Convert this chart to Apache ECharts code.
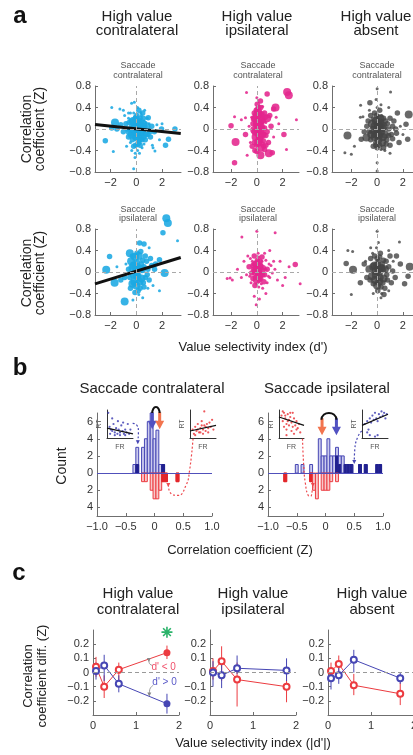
<!DOCTYPE html>
<html>
<head>
<meta charset="utf-8">
<script src="https://cdn.jsdelivr.net/npm/echarts@6/dist/echarts.min.js"></script>
<style>
  html, body { margin: 0; padding: 0; background: #fff; }
  #main { width: 413px; height: 755px; }
</style>
</head>
<body>
<div id="main"></div>
<script>
// ---- panel a : correlation coefficient vs value selectivity, [d', Z, size class]
const contraSacContra = [
  [-1.9,0.4,1],[-1.78,-0.42,1],[-2.4,-0.22,2],[-0.1,-0.53,1],[-0.2,-0.74,1],[-1.27,0.37,1],[-1.0,0.35,1],[-0.36,0.48,1],
  [-0.15,0.5,1],[0.93,0.21,2],[2.27,-0.3,2],[2.5,-0.19,2],[3.0,0.0,2],[1.96,0.0,2],[-1.65,0.12,3],[-1.9,0.02,2],
  [-1.5,0.0,2],[1.3,-0.35,1],[1.45,-0.41,1],[-0.75,-0.32,1],[-0.8,0.1,2],[-0.6,0.2,1],[-0.5,-0.05,3],[-0.4,0.15,2],
  [-0.3,-0.2,2],[-0.25,0.05,3],[-0.2,0.3,1],[-0.15,-0.1,3],[-0.1,0.18,2],[-0.05,-0.3,2],[0,0.05,3],[0,-0.15,3],
  [0.05,0.25,2],[0.1,-0.05,3],[0.15,0.12,3],[0.2,-0.25,2],[0.25,0.02,3],[0.3,0.2,2],[0.35,-0.12,3],[0.4,0.08,2],
  [0.45,-0.35,1],[0.5,0.3,2],[0.55,-0.05,2],[0.6,0.15,1],[0.7,-0.2,2],[0.8,0.05,3],[0.9,-0.1,2],[1.0,0.1,1],
  [1.1,-0.15,2],[1.2,0.05,2],[1.4,-0.05,2],[1.6,0.08,1],[-0.35,-0.4,1],[0.1,0.4,1],[0.2,0.35,2],[-0.6,-0.15,2],
  [-1.0,-0.05,2],[-1.2,0.08,2],[0.65,0.35,1],[-0.05,0.1,3],[0.3,-0.3,2],[0.1,-0.4,1],[1.8,-0.2,1],[2.0,0.1,1],
  [-0.9,0.25,1],[-0.3,0.0,1],[0.05,-0.22,1],[0.4,0.25,1],[-0.15,0.22,1],[0.6,-0.28,1],[0.75,0.12,1],[-0.45,-0.25,1],
  [0.25,-0.45,1],[-0.08,-0.45,1],[0.5,-0.18,1],[-0.7,0.0,2],[-0.55,0.12,2],[-0.45,0.3,1],[-0.35,-0.1,3],[-0.2,-0.32,2],
  [-0.1,0.05,3],[0.05,-0.05,3],[0.15,-0.15,3],[0.2,0.05,3],[0.3,0.1,3],[0.4,-0.05,3],[0.45,-0.2,2],[0.55,0.2,2],
  [0.65,0.05,2],[0.75,-0.1,2],[0.85,0.2,1],[1.05,-0.05,2],[-0.25,0.15,3],[-0.05,0.22,2],[0.1,0.15,3],[0.0,-0.05,3],
  [-0.4,-0.02,2],[0.3,-0.2,2],[0.6,-0.15,2],[-0.15,0.0,3],[0.12,-0.28,2],[0.5,0.1,3],[-0.6,0.3,1],[0.35,0.3,1],
  [1.25,-0.3,1]
]
const ipsiSacContra = [
  [2.35,0.69,3],[2.48,0.63,3],[-0.8,0.68,1],[0,0.58,1],[0.28,0.52,2],[0.03,0.46,2],[0.8,0.65,2],[1.45,0.4,3],
  [1.3,0.37,2],[-1.73,0.23,1],[-0.88,0.21,1],[-1.2,0.17,1],[-2.0,0.06,2],[3.07,0.17,1],[-1.65,-0.24,3],[-0.88,-0.1,2],
  [-0.75,-0.49,1],[-1.73,-0.63,2],[0.28,-0.49,3],[0.93,-0.45,3],[1.2,-0.44,2],[2.3,-0.38,1],[2.1,-0.1,2],[-0.36,-0.32,2],
  [0.54,-0.32,2],[-0.2,0.3,2],[0.1,0.32,3],[0.4,0.28,2],[0.6,0.3,2],[-0.1,0.2,3],[0.2,0.18,3],[0.5,0.15,2],
  [0.8,0.2,3],[1.0,0.25,2],[-0.3,0.1,2],[0,0.08,3],[0.3,0.05,3],[0.6,0.02,2],[1.1,0.05,2],[-0.2,-0.02,3],
  [0.1,-0.05,3],[0.4,-0.1,3],[0.7,-0.12,2],[-0.1,-0.15,3],[0.2,-0.2,3],[0.5,-0.22,2],[0.9,-0.25,2],[0,-0.3,2],
  [0.3,-0.35,3],[-0.15,-0.4,2],[0.6,-0.38,2],[0.15,0.4,2],[0.45,0.42,1],[-0.05,0.35,2],[1.3,-0.15,1],[1.7,0.1,1],
  [-0.6,0.05,1],[-0.5,-0.25,1],[0.35,0.12,2],[0.05,-0.1,2],[0.25,0.25,2],[0.7,0.12,1],[-0.4,0.22,1],[1.5,0.22,1],
  [0.0,0.25,3],[0.2,0.3,2],[0.35,0.18,3],[0.15,0.05,3],[0.45,0.02,2],[-0.1,-0.05,3],[0.25,-0.12,3],[0.55,-0.1,2],
  [0.1,-0.25,3],[0.4,-0.28,2],[0.0,-0.42,2],[0.7,-0.3,2],[-0.25,0.18,2],[0.65,0.22,2],[0.3,0.4,2],[-0.2,-0.25,2],
  [0.8,-0.05,2],[0.05,0.12,3],[0.3,-0.02,3],[-0.05,0.38,1]
]
const absentSacContra = [
  [0,0.75,1],[1.04,0.69,1],[-0.08,0.55,1],[-0.56,0.49,2],[-1.28,0.44,1],[0.9,0.4,1],[2.45,0.27,3],[1.57,0.3,2],
  [-1.3,0.22,1],[-1.1,0.23,1],[-2.3,-0.12,3],[-2.5,-0.44,1],[-2.0,-0.47,1],[-1.76,-0.32,1],[-1.23,-0.19,2],[-0.83,-0.16,3],
  [2.37,-0.19,2],[2.24,0.09,2],[0,-0.63,1],[0,-0.78,1],[1.44,0,2],[-0.5,0.25,2],[-0.2,0.3,2],[0.2,0.35,2],
  [0.5,0.2,2],[-0.4,0.1,3],[-0.1,0.15,3],[0.2,0.12,3],[0.5,0.05,3],[0.8,0.1,2],[1.0,0.2,2],[1.2,0.05,2],
  [-0.6,-0.05,2],[-0.3,-0.02,3],[0,0,3],[0.3,-0.05,3],[0.6,-0.1,3],[0.9,-0.12,2],[1.2,-0.18,2],[-0.5,-0.2,2],
  [-0.2,-0.15,3],[0.1,-0.2,3],[0.4,-0.25,3],[0.7,-0.28,2],[1.0,-0.3,2],[-0.3,-0.32,2],[0,-0.35,2],[0.3,-0.38,1],
  [-0.8,0.05,2],[-1.0,-0.05,2],[1.5,-0.08,2],[1.8,0.05,1],[1.7,-0.25,2],[0.1,0.22,2],[-0.1,-0.25,2],[0.2,0.02,3],
  [0.05,0.08,3],[0.35,0.25,1],[-0.6,0.35,1],[0.6,-0.4,1],[2.0,-0.1,1],[-0.2,0.05,3],[0.1,0.08,3],[0.4,0.02,3],
  [0.25,0.2,3],[-0.05,0.25,2],[0.65,0.15,2],[-0.45,-0.1,3],[-0.15,-0.1,3],[0.15,-0.12,3],[0.45,-0.15,3],[0.75,-0.2,2],
  [-0.1,-0.3,2],[0.2,-0.3,2],[0.5,-0.35,2],[0.9,0.0,2],[1.1,-0.1,2],[-0.7,0.15,2],[0.0,0.4,1],[0.3,0.45,1],
  [1.3,0.15,2],[1.0,-0.45,1],[0.05,-0.1,3],[0.3,0.1,3],[-0.3,0.18,2]
]
const contraSacIpsi = [
  [2.33,1.0,3],[2.45,0.91,3],[2.07,0.73,2],[0.26,0.54,2],[0.6,0.52,2],[3.2,0.58,1],[-2.07,0.29,2],[-2.33,0.04,3],
  [-1.68,-0.2,3],[-0.9,-0.55,3],[-0.26,-0.52,1],[0.5,-0.48,1],[1.8,-0.35,1],[2.2,-0.02,3],[1.8,0.23,2],[1.42,0.05,2],
  [-0.5,0.35,3],[1.0,0.45,1],[-1.2,-0.15,2],[-1.5,0.1,1],[-0.4,0.2,3],[-0.1,0.28,3],[0.2,0.3,3],[0.5,0.22,2],
  [0.8,0.2,2],[-0.6,0.05,2],[-0.3,0.08,3],[0,0.1,3],[0.3,0.05,3],[0.6,0.1,2],[0.9,0.05,2],[1.2,0.12,2],
  [-0.5,-0.1,2],[-0.2,-0.05,3],[0.1,-0.08,3],[0.4,-0.12,3],[0.7,-0.1,2],[1.0,-0.15,2],[-0.3,-0.22,3],[0,-0.25,3],
  [0.3,-0.3,2],[0.6,-0.28,2],[-0.1,-0.38,2],[0.2,-0.42,1],[0.9,-0.3,1],[1.3,-0.25,1],[-0.8,0.15,1],[-0.9,-0.1,2],
  [0.1,0.18,2],[0.35,0.38,2],[1.5,0.15,2],[-0.15,0.15,2],[-0.2,0.12,3],[0.15,0.08,3],[0.45,0.05,3],[0.0,-0.05,3],
  [0.25,-0.18,3],[-0.15,-0.18,3],[0.55,-0.2,2],[0.05,0.35,2],[-0.3,0.3,2],[0.7,0.3,2],[0.4,0.15,2],[-0.45,-0.3,2],
  [0.15,-0.35,2],[1.1,0.25,2],[0.85,-0.05,2],[-0.05,0.0,3]
]
const ipsiSacIpsi = [
  [-1.16,0.65,1],[1.42,0.73,1],[0,0.76,1],[-0.05,-0.61,1],[2.98,0.14,2],[3.36,-0.22,1],[-2.07,-0.11,1],[-2.3,-0.12,1],
  [-1.9,-0.15,1],[-1.5,0.05,1],[2.5,0.1,1],[2.2,-0.1,1],[1.8,0.2,1],[2.0,-0.25,1],[-1.0,0.2,1],[-1.2,-0.1,1],
  [0.2,-0.5,1],[-0.2,-0.45,1],[0.7,-0.4,1],[1.0,0.4,1],[-0.5,0.25,1],[-0.2,0.3,2],[0.1,0.35,1],[0.4,0.28,2],
  [0.7,0.22,1],[-0.6,0.1,2],[-0.3,0.12,2],[0,0.15,3],[0.2,0.1,3],[0.5,0.08,2],[0.8,0.05,2],[1.1,0.12,1],
  [-0.4,-0.02,2],[-0.1,0,3],[0.15,-0.03,3],[0.35,0.02,3],[0.6,-0.05,2],[0.9,-0.08,1],[1.2,-0.02,1],[-0.3,-0.12,2],
  [0,-0.15,3],[0.3,-0.12,2],[0.55,-0.18,2],[-0.15,-0.25,2],[0.15,-0.28,1],[0.45,-0.3,1],[-0.45,-0.2,1],[1.4,0.05,1],
  [1.6,-0.15,1],[-0.8,-0.05,1],[0.05,0.22,2],[0.25,0.2,2],[-0.05,0.05,3],[0.1,0.02,3],[0.25,-0.08,2],[0.8,-0.2,1],
  [1.3,0.2,1],[-0.7,0.3,1],[0.6,0.35,1],[-0.25,0.05,2],[0.05,0.08,2],[0.3,0.12,2],[0.45,-0.05,2],[0.2,-0.15,2],
  [-0.1,-0.1,2],[0.4,0.2,1],[-0.35,0.2,1],[0.7,0.05,1],[0.0,-0.22,1],[0.35,-0.22,1],[-0.55,-0.08,1],[0.95,0.15,1],
  [1.0,-0.1,1],[-0.2,0.15,2],[0.15,0.28,1]
]
const absentSacIpsi = [
  [0,0.76,1],[1.73,0.56,1],[-2.27,0.4,1],[-1.9,0.38,1],[-2.4,0.16,2],[-1.87,0.04,3],[-2.0,-0.42,1],[2.53,0.1,3],
  [2.4,-0.08,2],[2.13,-0.22,2],[0.53,-0.42,2],[-0.5,0.45,1],[0.1,0.55,1],[0.9,0.4,1],[1.5,0.3,2],[-1.3,-0.2,2],
  [-1.0,0.15,2],[1.8,0.15,2],[0.3,-0.48,1],[-0.3,-0.4,1],[-0.5,0.25,2],[-0.2,0.3,2],[0.2,0.28,2],[0.5,0.22,2],
  [-0.6,0.05,3],[-0.3,0.1,3],[0,0.12,3],[0.3,0.08,3],[0.6,0.05,3],[0.9,0.1,2],[1.2,0.02,2],[-0.4,-0.08,3],
  [-0.1,-0.05,3],[0.2,-0.1,3],[0.5,-0.12,3],[0.8,-0.15,2],[1.1,-0.2,2],[-0.3,-0.22,2],[0,-0.25,3],[0.3,-0.28,2],
  [0.6,-0.3,2],[-0.8,-0.1,2],[1.4,-0.1,2],[0.1,0.2,2],[-0.1,0.02,3],[0.15,0.0,3],[0.4,0.15,2],[-0.9,0.2,1],
  [0.9,-0.35,1],[1.0,0.3,2],[-0.2,0.12,3],[0.1,0.05,3],[0.4,0.05,3],[-0.15,-0.15,3],[0.15,-0.18,3],[0.45,-0.2,2],
  [0.05,-0.35,2],[0.25,0.35,2],[-0.35,0.35,1],[0.7,0.2,2],[0.75,-0.05,2],[-0.55,-0.15,2],[1.25,0.2,1],[0.0,0.25,2],
  [-0.05,0.45,1],[0.35,-0.4,1]
]
const fitContraSacContra = [[-3.2, 0.085], [3.45, -0.085]]
const fitContraSacIpsi = [[-3.2, -0.22], [3.45, 0.27]]
const dTicks = [-2, 0, 2]
const zTicks = [-0.8, -0.4, 0, 0.4, 0.8]

// ---- panel b : histograms of correlation coefficient (bin centre, count, significant count)
const contraBlueX = [-0.35, -0.3, -0.2, -0.15, -0.1, -0.05, 0, 0.05, 0.1, 0.15]
const contraBlueN = [1, 3, 3, 4, 6, 7, 4, 5, 1, 1]
const contraBlueSig = [0, 1, 0, 0, 0, 0, 0, 0, 0, 1]
const contraRedX = [-0.2, -0.15, -0.05, 0, 0.05, 0.1, 0.15, 0.2, 0.4]
const contraRedN = [1, 1, 2, 3, 3, 2, 1, 1, 1]
const contraRedSig = [0, 0, 0, 0, 0, 0, 1, 1, 1]
const ipsiBlueX = [-0.5, -0.4, -0.25, -0.1, -0.05, 0, 0.05, 0.1, 0.15, 0.2, 0.25, 0.3, 0.35, 0.4, 0.45, 0.6, 0.7, 0.9, 0.95]
const ipsiBlueN = [1, 1, 1, 4, 2, 2, 4, 2, 2, 3, 2, 2, 1, 1, 1, 1, 1, 1, 1]
const ipsiBlueSig = [0, 0, 0, 0, 0, 0, 0, 0, 0, 2, 1, 0, 1, 1, 1, 1, 1, 1, 1]
const ipsiRedX = [-0.7, -0.25, -0.2, -0.15, -0.05, 0, 0.05, 0.1, 0.2]
const ipsiRedN = [1, 1, 2, 3, 2, 2, 2, 1, 1]
const ipsiRedSig = [1, 1, 0, 0, 0, 0, 0, 0, 0]
const countTicks = [-4, -2, 0, 2, 4, 6]
const zHistTicks = [-1, -0.5, 0, 0.5, 1]
// mean shift arrows [Z, count at arrow centre]
const contraArrowBlue = [-0.04, 6.1], contraArrowRed = [0.09, 6.1]
const ipsiArrowRed = [-0.06, 5.4], ipsiArrowBlue = [0.19, 5.4]
const contraArch = [[-0.04, 7.0], [-0.02, 7.5], [0.025, 7.7], [0.07, 7.5], [0.09, 7.0]]
const ipsiArch = [[-0.07, 6.2], [-0.03, 6.8], [0.06, 7.0], [0.15, 6.8], [0.19, 6.2]]
const contraStar = [0.025, 8.1], ipsiStar = [0.06, 7.4]
const contraBlueLink = [[-0.38, 5.8], [-0.31, 5.6], [-0.28, 4.8], [-0.29, 3.6]]
const contraRedLink = [[0.67, 4.0], [0.61, 0.3], [0.55, -1.4], [0.41, -2.6], [0.29, -2.4], [0.24, -1.4]]
const ipsiRedLink = [[-0.4, 4.0], [-0.38, 1.0], [-0.35, -1.2], [-0.3, -2.6], [-0.26, -2.7], [-0.23, -2.0], [-0.22, -1.4]]
const ipsiBlueLink = [[0.63, 4.9], [0.56, 4.2], [0.51, 2.8], [0.5, 1.3]]
// example neurons (firing rate vs reaction time, normalised)
const insetContraBlue = [[0.05,0.9],[0.1,0.4],[0.15,0.3],[0.2,0.25],[0.25,0.5],[0.3,0.2],[0.35,0.35],[0.4,0.15],[0.45,0.3],[0.5,0.2],[0.55,0.45],[0.6,0.25],[0.65,0.15],[0.7,0.3],[0.75,0.2],[0.8,0.5],[0.85,0.15],[0.9,0.3],[0.12,0.15],[0.3,0.1],[0.5,0.1],[0.7,0.1],[0.42,0.6],[0.62,0.55],[0.2,0.7]]
const insetContraRed = [[0.1,0.3],[0.15,0.15],[0.2,0.4],[0.25,0.25],[0.3,0.5],[0.35,0.2],[0.4,0.35],[0.45,0.6],[0.5,0.3],[0.55,0.45],[0.6,0.25],[0.65,0.5],[0.7,0.35],[0.75,0.55],[0.8,0.4],[0.85,0.65],[0.3,0.3],[0.5,0.15],[0.4,0.2],[0.6,0.4],[0.55,0.95],[0.9,0.3],[0.2,0.1],[0.7,0.2],[0.45,0.45]]
const insetIpsiRed = [[0.1,0.8],[0.15,0.6],[0.2,0.9],[0.25,0.7],[0.3,0.5],[0.35,0.85],[0.4,0.65],[0.45,0.75],[0.5,0.55],[0.55,0.9],[0.6,0.7],[0.65,0.45],[0.7,0.6],[0.75,0.35],[0.8,0.5],[0.2,0.4],[0.3,0.3],[0.4,0.45],[0.5,0.25],[0.6,0.15],[0.7,0.3],[0.15,0.95],[0.35,0.6],[0.45,0.9],[0.25,0.8],[0.55,0.4],[0.85,0.2],[0.3,0.1]]
const insetIpsiBlue = [[0.1,0.5],[0.2,0.6],[0.25,0.3],[0.3,0.7],[0.35,0.55],[0.4,0.8],[0.45,0.65],[0.5,0.9],[0.55,0.7],[0.6,0.6],[0.65,0.85],[0.7,0.75],[0.75,0.95],[0.8,0.8],[0.85,0.9],[0.9,0.7],[0.3,0.1],[0.5,0.05],[0.6,0.1],[0.2,0.2],[0.95,0.85]]
const fitInsetContraBlue = [[0, 0.35], [1, 0.15]]
const fitInsetContraRed = [[0, 0.25], [1, 0.45]]
const fitInsetIpsiRed = [[0, 0.75], [1, 0.45]]
const fitInsetIpsiBlue = [[0, 0.45], [1, 0.85]]

// ---- panel c : correlation difference vs |d'|
const selX1 = [0.07, 0.26, 0.6, 1.72]
const selX2 = [0.07, 0.27, 0.63, 1.78]
const selX3 = [0.07, 0.25, 0.6, 1.68]
const contraNeg = [0.04, -0.1, 0.02, 0.14], contraNegLo = [-0.03, -0.18, -0.07, 0.095], contraNegHi = [0.11, -0.02, 0.07, 0.19]
const contraPos = [0.01, 0.05, -0.08, -0.22], contraPosLo = [-0.05, -0.06, -0.14, -0.29], contraPosHi = [0.07, 0.125, -0.02, -0.15]
const ipsiNeg = [0.01, 0.08, -0.05, -0.1], ipsiNegLo = [-0.05, -0.06, -0.24, -0.21], ipsiNegHi = [0.1, 0.185, 0.07, -0.02]
const ipsiPos = [0, -0.02, 0.03, 0.015], ipsiPosLo = [-0.1, -0.11, -0.01, -0.06], ipsiPosHi = [0.08, 0.1, 0.12, 0.1]
const absentNeg = [0.01, 0.06, -0.09, -0.15], absentNegLo = [-0.05, -0.01, -0.16, -0.23], absentNegHi = [0.07, 0.12, -0.01, -0.07]
const absentPos = [-0.04, -0.02, 0.09, -0.04], absentPosLo = [-0.12, -0.08, 0, -0.08], absentPosHi = [0.02, 0.05, 0.16, 0]
const contraSig = [false, false, false, true]
const noSig = [false, false, false, false]
const diffTicks = [-0.2, -0.1, 0, 0.1, 0.2]
const sigStar = [1.72, 0.285]
const negPointer = [[1.38, 0.05], [1.31, 0.065], [1.3, 0.088]]
const posPointer = [[1.4, -0.09], [1.32, -0.12], [1.31, -0.155]]

const FONT = "'Liberation Sans', Arial, sans-serif"
const CYAN = '#1ba9e2', PINK = '#e4268d', GREY = '#444444'
const BLUE = '#4646b4', RED = '#ec3b40', DARKBLUE = '#20208f', ORANGE = '#f2744e'
const SIZES = [0, 3, 5.5, 8]
const BIN = 0.05

const grid = [], xAxis = [], yAxis = [], series = [], graphic = []

function minus(v, digits) {
  if (Math.abs(v) < 1e-9) return '0'
  return (v < 0 ? '\u2212' : '') + Math.abs(v).toFixed(digits)
}

function axis(extra, labelExtra, tickVals) {
  return Object.assign({
    type: 'value',
    axisLine: { show: true, onZero: false, lineStyle: { color: '#6f6f6f', width: 1 } },
    axisTick: { show: true, inside: true, length: 3, lineStyle: { color: '#6f6f6f' }, customValues: tickVals },
    axisLabel: Object.assign({ color: '#333', fontSize: 11, fontFamily: FONT, margin: 4, customValues: tickVals }, labelExtra),
    splitLine: { show: false }
  }, extra)
}

function addGrid(box, xa, ya) {
  grid.push(Object.assign({ containLabel: false, outerBoundsMode: 'none' }, box))
  const i = grid.length - 1
  xAxis.push(Object.assign({ gridIndex: i }, xa))
  yAxis.push(Object.assign({ gridIndex: i }, ya))
  return i
}

function txt(x, y, text, size, o) {
  o = o || {}
  graphic.push({
    type: 'text', x, y, rotation: o.rot || 0, z: 10,
    style: {
      text, fill: o.color || '#222', align: 'center', verticalAlign: 'middle',
      font: (o.bold ? 'bold ' : '') + size + 'px ' + FONT, lineHeight: o.lh || size
    }
  })
}

function dashedZero(i, both, color) {
  const data = [{ yAxis: 0 }]
  if (both) data.push({ xAxis: 0 })
  series.push({
    type: 'line', xAxisIndex: i, yAxisIndex: i, data: [], z: 1, silent: true,
    markLine: { symbol: 'none', silent: true, label: { show: false }, animation: false,
      lineStyle: { type: [4, 3], color: color || '#a9a9a9', width: 1 }, data }
  })
}

// ---------------- panel a ----------------
const aLefts = [95, 213, 332]
const aMins = [-3.2, -3.4, -3.5]
const aTops = [86, 229]
const aPanels = [
  [contraSacContra, ipsiSacContra, absentSacContra],
  [contraSacIpsi, ipsiSacIpsi, absentSacIpsi]
]
const aColors = [CYAN, PINK, GREY]
const aFits = [[fitContraSacContra, null, null], [fitContraSacIpsi, null, null]]

aTops.forEach((top, r) => {
  aLefts.forEach((left, c) => {
    const i = addGrid({ left, top, width: 86, height: 86 },
      axis({ min: aMins[c], max: aMins[c] + 6.67 }, { formatter: v => minus(v, 0), margin: 5 }, dTicks),
      axis({ min: -0.8, max: 0.8 }, { formatter: v => minus(v, 1) }, zTicks))
    dashedZero(i, true)
    series.push({
      type: 'scatter', xAxisIndex: i, yAxisIndex: i, data: aPanels[r][c], clip: false, z: 2, silent: true,
      symbolSize: v => SIZES[v[2]],
      itemStyle: { color: aColors[c], opacity: c === 2 ? 0.8 : 0.88 }
    })
    if (aFits[r][c]) {
      series.push({
        type: 'line', xAxisIndex: i, yAxisIndex: i, data: aFits[r][c], symbol: 'none', z: 3, silent: true,
        lineStyle: { color: '#111', width: 3 }
      })
    }
  })
})

// ---------------- panel b ----------------
function histSeries(i, xs, ns, sig, sign, fill, stroke, solid) {
  return {
    type: 'custom', xAxisIndex: i, yAxisIndex: i, z: 2, silent: true,
    data: xs.map((x, k) => [x, ns[k] * sign, sig[k] * sign]),
    renderItem(params, api) {
      const x = api.value(0), n = api.value(1), s = api.value(2)
      const p0 = api.coord([x - BIN / 2, 0]), p1 = api.coord([x + BIN / 2, n])
      const kids = [{
        type: 'rect',
        shape: { x: p0[0], y: Math.min(p0[1], p1[1]), width: p1[0] - p0[0], height: Math.abs(p1[1] - p0[1]) },
        style: { fill, stroke, lineWidth: 1 }
      }]
      if (s) {
        const ps = api.coord([x + BIN / 2, s])
        kids.push({
          type: 'rect',
          shape: { x: p0[0], y: Math.min(p0[1], ps[1]), width: ps[0] - p0[0], height: Math.abs(ps[1] - p0[1]) },
          style: { fill: solid, stroke: solid, lineWidth: 1 }
        })
      }
      return { type: 'group', children: kids }
    }
  }
}

const ARROW = 'path://M3,0L6,0L6,9L9,9L4.5,18L0,9L3,9Z'
const STAR = 'path://M5,0L5,10M0,5L10,5M1.5,1.5L8.5,8.5M1.5,8.5L8.5,1.5'

function linkSeries(i, pts, color, dashed) {
  const data = pts.map((p, k) => k === pts.length - 1
    ? { value: p, symbol: 'triangle', symbolSize: 4, symbolRotate: 180 }
    : { value: p, symbol: 'none' })
  return {
    type: 'line', xAxisIndex: i, yAxisIndex: i, data, smooth: 0.5, clip: false, z: 4, silent: true,
    showSymbol: true, symbol: 'none', itemStyle: { color },
    lineStyle: { color, width: dashed ? 1.2 : 0.8, type: dashed ? [2, 2] : 'solid' }
  }
}

function histPanel(left, blue, red, arrows, arch, star, links) {
  const i = addGrid({ left, top: 413, width: 115, height: 103 },
    axis({ min: -1, max: 1, interval: 0.5 }, { formatter: v => minus(v, 1), margin: 5 }, zHistTicks),
    axis({ min: -5, max: 7 }, { formatter: v => String(Math.abs(v)) }, countTicks))
  series.push(histSeries(i, blue[0], blue[1], blue[2], 1, '#cbcbee', BLUE, DARKBLUE))
  series.push(histSeries(i, red[0], red[1], red[2], -1, '#f8c8c9', RED, '#e2262b'))
  series.push({
    type: 'line', xAxisIndex: i, yAxisIndex: i, data: [], z: 3, silent: true,
    markLine: { symbol: 'none', silent: true, label: { show: false }, lineStyle: { type: 'solid', color: '#5050bb', width: 1 }, data: [{ yAxis: 0 }] }
  })
  series.push({
    type: 'line', xAxisIndex: i, yAxisIndex: i, data: arch, smooth: 0.6, symbol: 'none', clip: false, z: 5, silent: true,
    lineStyle: { color: '#111', width: 2 },
    markPoint: {
      silent: true, animation: false,
      data: arrows.map(a => ({ coord: a[0], symbol: ARROW, symbolSize: [9, 17], itemStyle: { color: a[1] }, label: { show: false } }))
        .concat([{ coord: star, symbol: STAR, symbolSize: 7, itemStyle: { color: 'rgba(0,0,0,0)', borderColor: '#111', borderWidth: 1.3 }, label: { show: false } }])
    }
  })
  links.forEach(l => series.push(linkSeries(i, l[0], l[1], true)))
  return i
}

histPanel(97, [contraBlueX, contraBlueN, contraBlueSig], [contraRedX, contraRedN, contraRedSig],
  [[contraArrowBlue, '#5252c2'], [contraArrowRed, ORANGE]], contraArch, contraStar,
  [[contraBlueLink, '#4646b4'], [contraRedLink, '#ee4a4f']])
histPanel(268, [ipsiBlueX, ipsiBlueN, ipsiBlueSig], [ipsiRedX, ipsiRedN, ipsiRedSig],
  [[ipsiArrowRed, ORANGE], [ipsiArrowBlue, '#5252c2']], ipsiArch, ipsiStar,
  [[ipsiRedLink, '#ee4a4f'], [ipsiBlueLink, '#4646b4']])

function insetPanel(left, width, pts, fit, color) {
  const hidden = { show: false }
  const nameStyle = { color: '#555', fontSize: 7, fontFamily: FONT }
  const i = addGrid({ left, top: 410, width, height: 28 },
    { type: 'value', min: 0, max: 1, axisLine: { show: true, lineStyle: { color: '#333', width: 1 } }, axisTick: hidden, axisLabel: hidden, splitLine: hidden,
      name: 'FR', nameLocation: 'middle', nameGap: 6, nameTextStyle: nameStyle },
    { type: 'value', min: 0, max: 1, axisLine: { show: true, lineStyle: { color: '#333', width: 1 } }, axisTick: hidden, axisLabel: hidden, splitLine: hidden,
      name: 'RT', nameLocation: 'middle', nameGap: 4, nameRotate: 90, nameTextStyle: nameStyle })
  series.push({ type: 'scatter', xAxisIndex: i, yAxisIndex: i, data: pts, symbolSize: 2.2, silent: true, z: 3, itemStyle: { color } })
  series.push({ type: 'line', xAxisIndex: i, yAxisIndex: i, data: fit, symbol: 'none', silent: true, z: 4, lineStyle: { color: '#111', width: 1.2 } })
}
insetPanel(107, 26, insetContraBlue, fitInsetContraBlue, '#3838b0')
insetPanel(190, 26, insetContraRed, fitInsetContraRed, '#ea2e33')
insetPanel(279, 25, insetIpsiRed, fitInsetIpsiRed, '#ea2e33')
insetPanel(362, 26, insetIpsiBlue, fitInsetIpsiBlue, '#3838b0')

// ---------------- panel c ----------------
function errSeries(i, xs, lo, hi, color) {
  return {
    type: 'custom', xAxisIndex: i, yAxisIndex: i, z: 2, silent: true,
    data: xs.map((x, k) => [x, lo[k], hi[k]]),
    renderItem(params, api) {
      const a = api.coord([api.value(0), api.value(1)]), b = api.coord([api.value(0), api.value(2)])
      return { type: 'line', shape: { x1: a[0], y1: a[1], x2: b[0], y2: b[1] }, style: { stroke: color, lineWidth: 1 } }
    }
  }
}
function meanSeries(i, xs, ys, sig, color) {
  return {
    type: 'line', xAxisIndex: i, yAxisIndex: i, z: 3, silent: true, symbolSize: 6,
    data: xs.map((x, k) => ({ value: [x, ys[k]], symbol: sig[k] ? 'circle' : 'emptyCircle', symbolSize: sig[k] ? 7 : 6 })),
    itemStyle: { color }, lineStyle: { color, width: 1 }
  }
}
const cLefts = [93, 210, 328]
const cSets = [
  [selX1, contraNeg, contraNegLo, contraNegHi, contraPos, contraPosLo, contraPosHi, contraSig],
  [selX2, ipsiNeg, ipsiNegLo, ipsiNegHi, ipsiPos, ipsiPosLo, ipsiPosHi, noSig],
  [selX3, absentNeg, absentNegLo, absentNegHi, absentPos, absentPosLo, absentPosHi, noSig]
]
cLefts.forEach((left, c) => {
  const s = cSets[c]
  const i = addGrid({ left, top: 630, width: 86, height: 85 },
    axis({ min: 0, max: 2, interval: 1 }, { formatter: v => String(v), margin: 5 }),
    axis({ min: -0.3, max: 0.3 }, { formatter: v => minus(v, 1) }, diffTicks))
  dashedZero(i, false, '#999')
  series.push(errSeries(i, s[0], s[2], s[3], RED))
  series.push(errSeries(i, s[0], s[5], s[6], BLUE))
  const red = meanSeries(i, s[0], s[1], s[7], RED)
  const blue = meanSeries(i, s[0], s[4], s[7], BLUE)
  if (c === 0) {
    red.markPoint = {
      silent: true, animation: false,
      data: [
        { coord: sigStar, symbol: STAR, symbolSize: 11, itemStyle: { color: 'rgba(0,0,0,0)', borderColor: '#2bb36a', borderWidth: 1.6 }, label: { show: false } },
        { coord: [1.36, 0.035], symbol: 'circle', symbolSize: 0, label: { show: true, position: 'right', distance: 0, formatter: "d' < 0", color: '#f0506a', fontSize: 10, fontFamily: FONT } }
      ]
    }
    blue.markPoint = {
      silent: true, animation: false,
      data: [
        { coord: [1.38, -0.068], symbol: 'circle', symbolSize: 0, label: { show: true, position: 'right', distance: 0, formatter: "d' > 0", color: '#5a5ac8', fontSize: 10, fontFamily: FONT } }
      ]
    }
    series.push(linkSeries(i, negPointer, '#888', false), linkSeries(i, posPointer, '#888', false))
  }
  series.push(red, blue)
})

// ---------------- text ----------------
txt(20, 16, 'a', 24, { bold: true, color: '#111' })
txt(20, 368, 'b', 24, { bold: true, color: '#111' })
txt(19, 573, 'c', 24, { bold: true, color: '#111' })

const heads = [['High value', 'contralateral'], ['High value', 'ipsilateral'], ['High value', 'absent']]
;[137, 257, 376].forEach((x, k) => {
  txt(x, 17, heads[k][0], 15)
  txt(x, 31, heads[k][1], 15)
})
;[138, 253, 372].forEach((x, k) => {
  txt(x, 594, heads[k][0], 15)
  txt(x, 610, heads[k][1], 15)
})
;[138, 258, 377].forEach(x => {
  txt(x, 65.5, 'Saccade', 9, { color: '#555' })
  txt(x, 75.5, 'contralateral', 9, { color: '#555' })
  txt(x, 209.5, 'Saccade', 9, { color: '#555' })
  txt(x, 219, 'ipsilateral', 9, { color: '#555' })
})
txt(34, 129, 'Correlation\ncoefficient (Z)', 14, { rot: Math.PI / 2, lh: 13 })
txt(34, 273, 'Correlation\ncoefficient (Z)', 14, { rot: Math.PI / 2, lh: 13 })
txt(253, 347, "Value selectivity index (d')", 13)

txt(152, 389, 'Saccade contralateral', 15)
txt(327, 389, 'Saccade ipsilateral', 15)
txt(62, 466, 'Count', 14, { rot: Math.PI / 2 })
txt(240, 550, 'Correlation coefficient (Z)', 13)

txt(35, 676, 'Correlation\ncoefficient diff. (Z)', 13, { rot: Math.PI / 2, lh: 14 })
txt(253, 743, "Value selectivity index (|d'|)", 13)

const chart = echarts.init(document.getElementById('main'), null, { renderer: 'canvas' })
chart.setOption({
  animation: false,
  backgroundColor: '#fff',
  textStyle: { fontFamily: FONT },
  grid, xAxis, yAxis, series, graphic
})
</script>
</body>
</html>
